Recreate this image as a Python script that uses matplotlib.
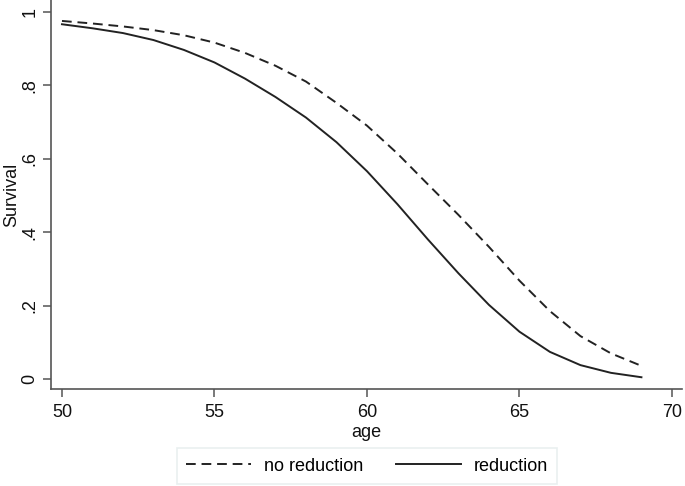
import matplotlib
matplotlib.use("Agg")
import matplotlib.pyplot as plt

plt.rcParams['font.family'] = ['Liberation Sans', 'DejaVu Sans']

age = [50, 51, 52, 53, 54, 55, 56, 57, 58, 59, 60, 61, 62, 63, 64, 65, 66, 67, 68, 69]
no_reduction = [0.975, 0.968, 0.960, 0.950, 0.936, 0.916, 0.888, 0.853, 0.810, 0.752, 0.690,
                0.614, 0.530, 0.447, 0.360, 0.268, 0.185, 0.117, 0.070, 0.036]
reduction = [0.966, 0.955, 0.942, 0.923, 0.896, 0.862, 0.818, 0.768, 0.712, 0.645, 0.566,
             0.476, 0.380, 0.288, 0.202, 0.129, 0.074, 0.038, 0.017, 0.005]

x_ticks = [50, 55, 60, 65, 70]
y_ticks = [0, 0.2, 0.4, 0.6, 0.8, 1.0]
y_tick_labels = ["0", ".2", ".4", ".6", ".8", "1"]

fig = plt.figure(figsize=(6.85, 4.86), dpi=100)
ax = fig.add_axes([51/685, 1 - 389/486, 631/685, 389/486])

ax.plot(age, no_reduction, color='#222222', lw=1.4, ls=(0, (5, 3)), label='no reduction')
ax.plot(age, reduction, color='#222222', lw=1.4, ls='-', label='reduction')

ax.set_xlim(49.64, 70.33)
ax.set_ylim(-0.027, 1.032)
ax.set_xticks(x_ticks)
ax.set_xticklabels([str(t) for t in x_ticks])
ax.set_yticks(y_ticks)
ax.set_yticklabels(y_tick_labels, rotation=90, va='center')

for s in ['top', 'right']:
    ax.spines[s].set_visible(False)
for s in ['left', 'bottom']:
    ax.spines[s].set_color('#555555')
    ax.spines[s].set_linewidth(1.2)
ax.tick_params(axis='both', direction='out', length=6, width=1.1, color='#555555',
               labelsize=13, labelcolor='#111111', pad=3)
ax.tick_params(axis='x', pad=5)

ax.set_xlabel('age', fontsize=13, labelpad=2, color='#111111')
ax.set_ylabel('Survival', fontsize=13, labelpad=1, color='#111111')

leg = fig.legend(loc='center', bbox_to_anchor=(367/685, 1 - 466/486), ncol=2,
                 fontsize=13, frameon=True, fancybox=False, handlelength=3.6,
                 columnspacing=1.8, borderpad=0.5, handletextpad=0.7, borderaxespad=0)
leg.get_frame().set_edgecolor('#e4ecec')
leg.get_frame().set_linewidth(1.2)

fig.savefig('out.png', dpi=100)
